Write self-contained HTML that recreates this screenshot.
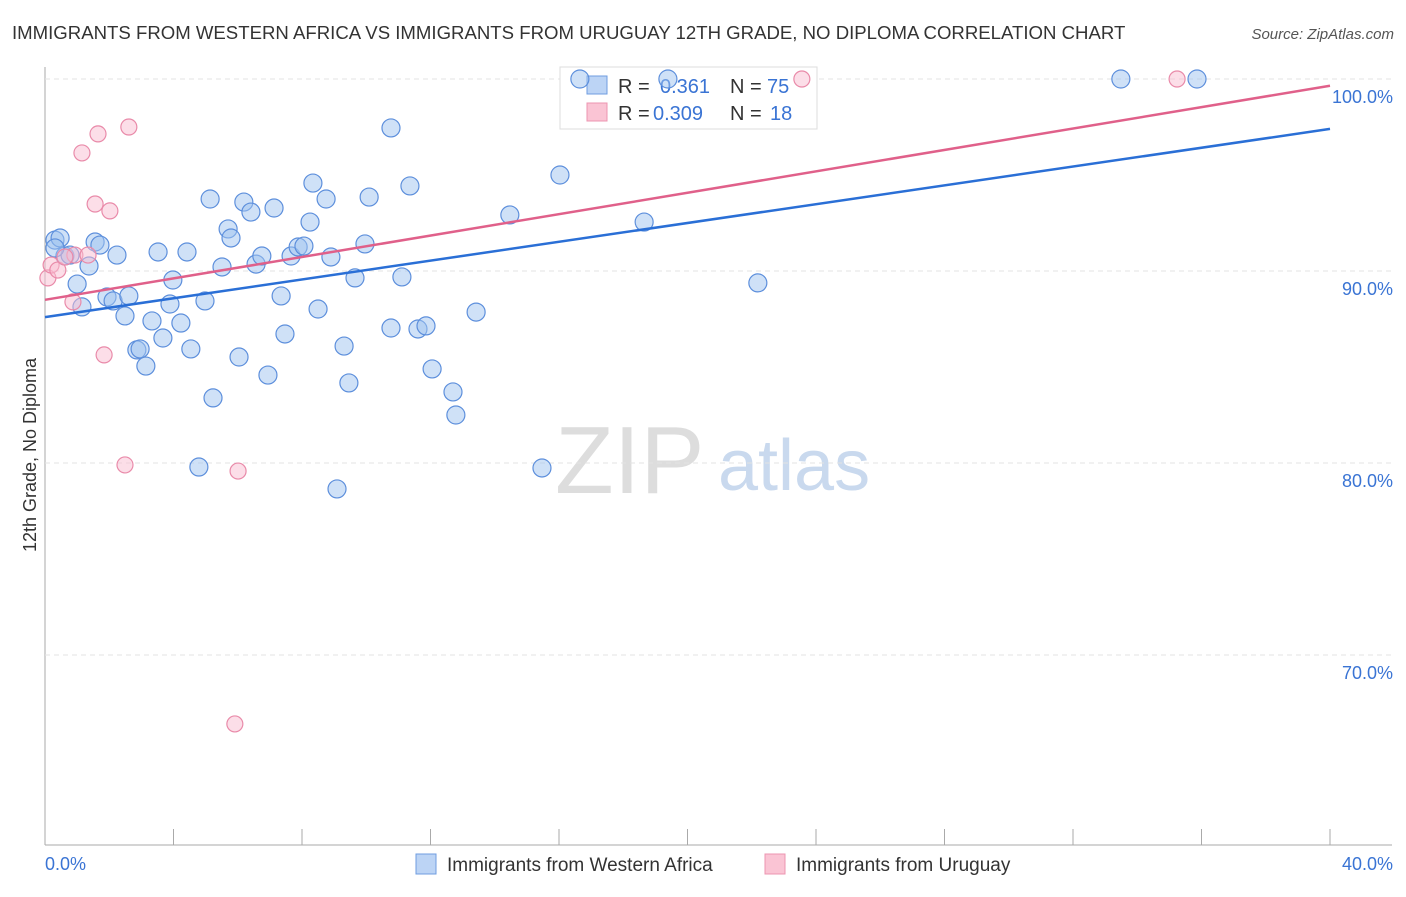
<!DOCTYPE html>
<html><head><meta charset="utf-8"><style>
body{margin:0;background:#fff;font-family:"Liberation Sans",sans-serif}
svg text{font-family:"Liberation Sans",sans-serif}
</style></head><body>
<svg width="1406" height="892" id="c">
<text x="12" y="39" font-size="18.6" fill="#333">IMMIGRANTS FROM WESTERN AFRICA VS IMMIGRANTS FROM URUGUAY 12TH GRADE, NO DIPLOMA CORRELATION CHART</text>
<text x="1394" y="39" font-size="15" fill="#555" text-anchor="end" font-style="italic">Source: ZipAtlas.com</text>
<text x="555" y="493" font-size="96" fill="#ddd" font-family="Liberation Serif">ZIP</text>
<text x="718" y="490" font-size="72" fill="#c9d9ee">atlas</text>
<text x="36" y="455" font-size="18" fill="#333" transform="rotate(-90 36 455)" text-anchor="middle">12th Grade, No Diploma</text>
<g id="grid"></g>
<g>
<rect x="560" y="67" width="257" height="62" fill="#fff" stroke="#ddd"/>
<rect x="587" y="76" width="20" height="18" fill="#bcd4f5" stroke="#6f9de0"/>
<rect x="587" y="103" width="20" height="18" fill="#fac4d4" stroke="#ec95b0"/>
<text x="618" y="93" font-size="20" fill="#333">R =</text><text x="660" y="93" font-size="20" fill="#3a74d4">0.361</text>
<text x="730" y="93" font-size="20" fill="#333">N =</text><text x="767" y="93" font-size="20" fill="#3a74d4">75</text>
<text x="618" y="120" font-size="20" fill="#333">R =</text><text x="653" y="120" font-size="20" fill="#3a74d4">0.309</text>
<text x="730" y="120" font-size="20" fill="#333">N =</text><text x="770" y="120" font-size="20" fill="#3a74d4">18</text>
</g>
<g id="marks"></g>
<g>
<rect x="416" y="854" width="20" height="20" fill="#bcd4f5" stroke="#6f9de0"/>
<text x="447" y="871" font-size="19" fill="#333">Immigrants from Western Africa</text>
<rect x="765" y="854" width="20" height="20" fill="#fac4d4" stroke="#ec95b0"/>
<text x="796" y="871" font-size="19" fill="#333">Immigrants from Uruguay</text>
</g>
</svg>
<script>
const xTicks=[0,40];
const yTicks=[100,90,80,70];
const bluePx=[[580,79],[668,79],[1121,79],[1197,79],[391,128],[560,175],[210,199],[244,202],[251,212],[274,208],[313,183],[326,199],[369,197],[410,186],[510,215],[644,222],[310,222],[228,229],[231,238],[55,240],[60,238],[95,242],[100,245],[158,252],[187,252],[117,255],[65,256],[70,255],[89,266],[222,267],[256,264],[262,256],[291,256],[298,247],[304,246],[331,257],[365,244],[355,278],[402,277],[173,280],[77,284],[82,307],[107,297],[113,301],[129,296],[170,304],[205,301],[281,296],[318,309],[125,316],[152,321],[181,323],[163,338],[137,350],[140,349],[191,349],[285,334],[391,328],[418,329],[426,326],[476,312],[758,283],[146,366],[239,357],[344,346],[268,375],[349,383],[432,369],[453,392],[213,398],[456,415],[199,467],[542,468],[337,489],[55,248]];
const pinkPx=[[48,278],[51,265],[58,270],[75,255],[73,302],[82,153],[98,134],[129,127],[95,204],[110,211],[104,355],[125,465],[238,471],[235,724],[1177,79],[802,79],[88,255],[65,257]];
const blueX=bluePx.map(p=>+((p[0]-45)/32.125).toFixed(2));
const blueY=bluePx.map(p=>+(100-(p[1]-79)/19.2).toFixed(2));
const pinkX=pinkPx.map(p=>+((p[0]-45)/32.125).toFixed(2));
const pinkY=pinkPx.map(p=>+(100-(p[1]-79)/19.2).toFixed(2));
const blueTrend=[87.6,97.4];
const pinkTrend=[88.5,99.65];
const X=v=>45+v*32.125, Y=v=>79+(100-v)*19.2;
const NS='http://www.w3.org/2000/svg';
const g=document.getElementById('grid'), m=document.getElementById('marks');
function mk(t,a,p){const e=document.createElementNS(NS,t);for(const k in a)e.setAttribute(k,a[k]);p.appendChild(e);return e;}
let ax=mk('line',{x1:45,y1:67,x2:45,y2:845,stroke:'#aaa'},g);


let bx=mk('line',{x1:45,y1:845,x2:1392,y2:845,stroke:'#aaa'},g);


for(let i=1;i<=10;i++){let t=mk('line',{x1:45+i*128.5,y1:829,x2:45+i*128.5,y2:845,stroke:'#aaa'},g);}
yTicks.forEach(v=>{
 let l=mk('line',{x1:45,y1:Y(v),x2:1392,y2:Y(v),stroke:'#e3e3e3','stroke-dasharray':'5,4'},g);
 
 
 let t=mk('text',{x:1393,y:Y(v)+24,'font-size':18,fill:'#3a74d4','text-anchor':'end'},g);t.textContent=v.toFixed(1)+'%';
 
 
});
xTicks.forEach((v,i)=>{let t=mk('text',{x:i?1393:45,y:870,'font-size':18,fill:'#3a74d4','text-anchor':i?'end':'start'},g);t.textContent=v.toFixed(1)+'%';
 
 });
blueX.forEach((x,i)=>{let c=mk('circle',{cx:X(x),cy:Y(blueY[i]),r:9,fill:'rgba(160,195,240,0.5)',stroke:'#5d8fdc','stroke-width':1.2},m);
 
 });
pinkX.forEach((x,i)=>{let c=mk('circle',{cx:X(x),cy:Y(pinkY[i]),r:8,fill:'rgba(250,190,210,0.5)',stroke:'#e98aa9','stroke-width':1.2},m);
 
 });
let bl=mk('line',{x1:X(0),y1:Y(blueTrend[0]),x2:X(40),y2:Y(blueTrend[1]),stroke:'#2a6fd6','stroke-width':2.5},m);


let pl=mk('line',{x1:X(0),y1:Y(pinkTrend[0]),x2:X(40),y2:Y(pinkTrend[1]),stroke:'#e0608a','stroke-width':2.5},m);


</script>
</body></html>
